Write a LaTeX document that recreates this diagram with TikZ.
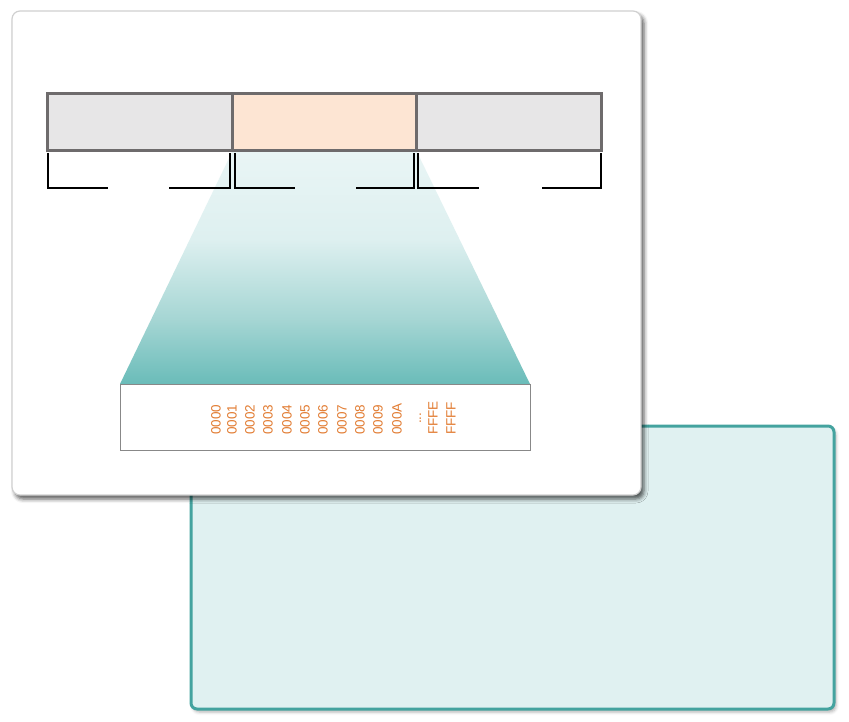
\documentclass[tikz,border=0pt]{standalone}
\usepackage{fontspec}
\setmainfont{Liberation Sans}
\usetikzlibrary{shadows.blur}
\definecolor{tealB}{RGB}{68,163,159}
\definecolor{tealF}{RGB}{224,241,241}
\definecolor{cardB}{RGB}{208,208,208}
\definecolor{segB}{RGB}{110,107,108}
\definecolor{segG}{RGB}{231,230,231}
\definecolor{segP}{RGB}{253,229,211}
\definecolor{addrB}{RGB}{136,136,136}
\definecolor{addrT}{RGB}{226,124,50}
\definecolor{shT}{RGB}{233,245,245}
\definecolor{shM}{RGB}{222,240,240}
\definecolor{shL}{RGB}{166,214,212}
\definecolor{shD}{RGB}{106,188,185}
\pgfdeclareverticalshading{trapshade}{100bp}{color(0bp)=(shD); color(25bp)=(shD); color(39bp)=(shL); color(56bp)=(shM); color(75bp)=(shT); color(100bp)=(shT)}
\tikzset{
  seg/.style={draw=segB, line width=3pt, minimum width=185pt, minimum height=57pt, anchor=north west, inner sep=0pt},
  brk/.style={draw=black, line width=1.4pt},
  addr/.style={text=addrT, font=\fontsize{13.5}{14}\selectfont, rotate=90, anchor=west, inner sep=0pt}
}
\begin{document}
\begin{tikzpicture}[x=1pt,y=-1pt]
\useasboundingbox (0,0) rectangle (849,722);
% teal panel
\draw[draw=tealB, fill=tealF, line width=3pt, rounded corners=6pt,
  blur shadow={shadow xshift=2pt, shadow yshift=-3pt, shadow opacity=30, shadow blur radius=3pt}]
  (191,426) rectangle (834,709);
% white card
\draw[draw=cardB, fill=white, line width=1.2pt, rounded corners=8pt,
  blur shadow={shadow xshift=3pt, shadow yshift=-4pt, shadow opacity=65, shadow blur radius=4pt}]
  (12,11) rectangle (641,495);
% gradient trapezoid
\shade[shading=trapshade] (233,150) -- (416,150) -- (530,384) -- (120,384) -- cycle;
% bar segments
\node[seg, fill=segG] (s1) at (46,92) {};
\node[seg, fill=segP] (s2) at (231,92) {};
\node[seg, fill=segG] (s3) at (415,92) {};
% brackets
\draw[brk] (48,153) |- (108,188);
\draw[brk] (169,188) -| (230,153);
\draw[brk] (235,153) |- (295,188);
\draw[brk] (356,188) -| (414,153);
\draw[brk] (418,153) |- (479,188);
\draw[brk] (542,188) -| (601,153);
% address box
\node[draw=addrB, fill=white, line width=1pt, minimum width=410pt, minimum height=66pt, anchor=north west, inner sep=0pt] (ab) at (120,384) {};
\node[addr] (a0) at (216,435) {0000};
\node[addr] (a1) at (232,435) {0001};
\node[addr] (a2) at (250,435) {0002};
\node[addr] (a3) at (268,435) {0003};
\node[addr] (a4) at (287,435) {0004};
\node[addr] (a5) at (305,435) {0005};
\node[addr] (a6) at (323,435) {0006};
\node[addr] (a7) at (342,435) {0007};
\node[addr] (a8) at (360,435) {0008};
\node[addr] (a9) at (378,435) {0009};
\node[addr] (aA) at (397,435) {000A};
\node[addr, anchor=base west] (ad) at (421,424) {...};
\node[addr] (aE) at (433,435) {FFFE};
\node[addr] (aF) at (451,435) {FFFF};
\end{tikzpicture}
\end{document}
